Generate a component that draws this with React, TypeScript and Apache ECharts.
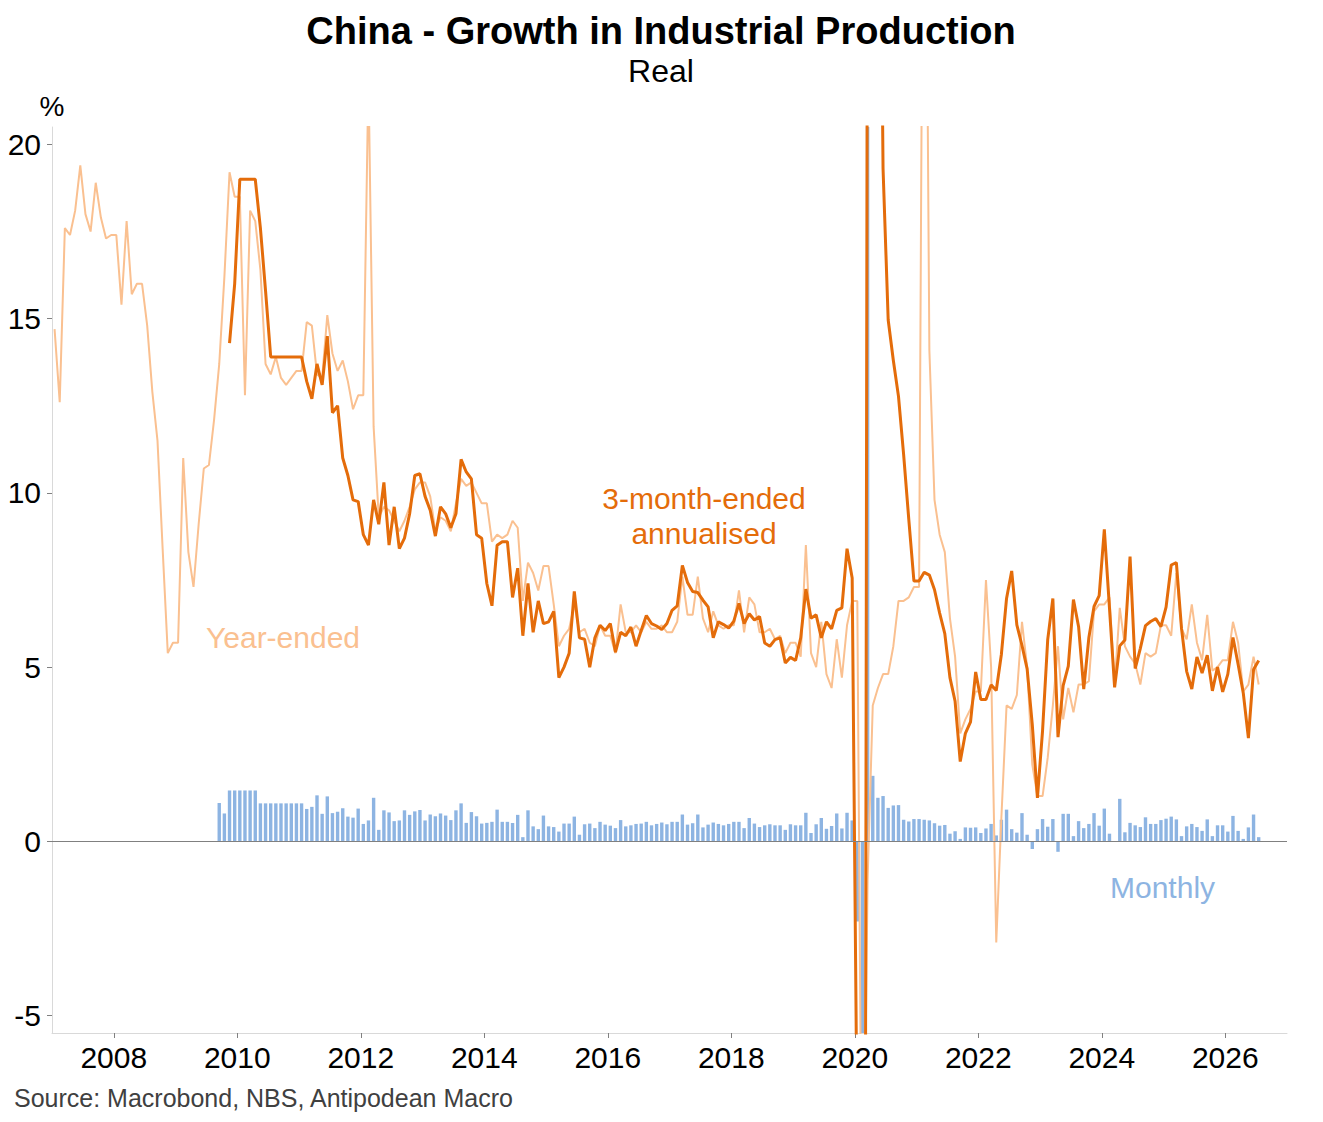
import React, { useEffect, useRef } from 'react';
import * as echarts from 'echarts';

// axis labels
const xAxisLabels = [2008, 2010, 2012, 2014, 2016, 2018, 2020, 2022, 2024, 2026];
const yAxisLabels = [-5, 0, 5, 10, 15, 20];

// year-ended growth, % (monthly from Jan 2007)
const yearEndedStart = { year: 2007, month: 1 };
const yearEnded = [
  14.7, 12.6, 17.6, 17.4, 18.1, 19.4, 18.0, 17.5, 18.9, 17.9, 17.3, 17.4, // 2007
  17.4, 15.4, 17.8, 15.7, 16.0, 16.0, 14.8, 12.9, 11.5, 8.4, 5.4, 5.7, // 2008
  5.7, 11.0, 8.3, 7.3, 9.1, 10.7, 10.8, 12.1, 13.7, 16.2, 19.2, 18.5, // 2009
  18.5, 12.8, 18.1, 17.8, 16.4, 13.7, 13.4, 13.9, 13.3, 13.1, 13.3, 13.5, // 2010
  13.5, 14.9, 14.8, 13.4, 13.3, 15.1, 14.0, 13.5, 13.8, 13.2, 12.4, 12.8, // 2011
  12.8, 22.0, 11.9, 9.3, 9.6, 9.5, 9.2, 8.9, 9.2, 9.6, 10.1, 10.3, // 2012
  10.3, 9.9, 8.9, 9.3, 9.2, 8.9, 9.7, 10.4, 10.2, 10.3, 10.0, 9.7, // 2013
  9.7, 8.6, 8.8, 8.7, 8.8, 9.2, 9.0, 6.9, 8.0, 7.7, 7.2, 7.9, // 2014
  7.9, 6.8, 5.6, 5.9, 6.1, 6.8, 6.0, 6.1, 5.7, 5.6, 6.2, 5.9, // 2015
  5.9, 5.4, 6.8, 6.0, 6.0, 6.2, 6.0, 6.3, 6.1, 6.1, 6.2, 6.0, // 2016
  6.0, 6.3, 7.6, 6.5, 6.5, 7.6, 6.4, 6.0, 6.6, 6.2, 6.1, 6.2, // 2017
  6.2, 7.2, 6.0, 7.0, 6.8, 6.0, 6.0, 6.1, 5.8, 5.9, 5.4, 5.7, // 2018
  5.7, 5.3, 8.5, 5.4, 5.0, 6.3, 4.8, 4.4, 5.8, 4.7, 6.2, 6.9, // 2019
  6.9, -13.5, -1.1, 3.9, 4.4, 4.8, 4.8, 5.6, 6.9, 6.9, 7.0, 7.3, // 2020
  7.3, 35.1, 14.1, 9.8, 8.8, 8.3, 6.4, 5.3, 3.1, 3.5, 3.8, 4.3, // 2021
  4.3, 7.5, 5.0, -2.9, 0.7, 3.9, 3.8, 4.2, 6.3, 5.0, 2.2, 1.3, // 2022
  1.3, 2.4, 3.9, 5.6, 3.5, 4.4, 3.7, 4.5, 4.5, 4.6, 6.6, 6.8, // 2023
  6.8, 7.0, 4.5, 6.7, 5.6, 5.3, 5.1, 4.5, 5.4, 5.3, 5.4, 6.2, // 2024
  6.2, 5.9, 7.7, 6.1, 5.8, 6.8, 5.7, 5.2, 6.5, 4.9, 5.0, 5.2, // 2025
  5.2, 6.3, 5.7, 4.3, 4.5, 5.3, 4.5, // 2026
];

// 3-month-ended annualised, % (from Nov 2009)
const threeMonthStart = { year: 2009, month: 11 };
const threeMonth = [
  14.3, 16.0, // 2009
  19.0, 19.0, 19.0, 19.0, 17.6, 15.8, 13.9, 13.9, 13.9, 13.9, 13.9, 13.9, // 2010
  13.9, 13.2, 12.7, 13.7, 13.1, 14.5, 12.3, 12.5, 11.0, 10.5, 9.8, 9.75, // 2011
  8.8, 8.5, 9.8, 9.1, 10.3, 8.5, 9.6, 8.4, 8.7, 9.4, 10.5, 10.55, // 2012
  9.9, 9.5, 8.76, 9.6, 9.4, 9.0, 9.4, 10.96, 10.6, 10.4, 8.8, 8.7, // 2013
  7.4, 6.76, 8.5, 8.6, 8.6, 7.0, 7.84, 5.9, 7.4, 6.0, 6.9, 6.25, // 2014
  6.3, 6.6, 4.7, 5.0, 5.4, 7.17, 5.84, 5.8, 5.0, 5.84, 6.2, 6.05, // 2015
  6.25, 5.43, 6.0, 5.9, 6.15, 5.6, 6.05, 6.48, 6.25, 6.18, 6.08, 6.25, // 2016
  6.63, 6.76, 7.92, 7.43, 7.17, 7.14, 6.92, 6.73, 5.84, 6.3, 6.22, 6.12, // 2017
  6.32, 6.83, 6.25, 6.53, 6.35, 6.45, 5.69, 5.6, 5.79, 5.84, 5.12, 5.28, // 2018
  5.19, 5.84, 7.24, 6.4, 6.5, 5.84, 6.3, 6.1, 6.63, 6.7, 8.4, 7.56, // 2019
  -9.0, -60.0, 30.0, 45.0, 35.0, 19.3, 14.96, 13.8, 12.77, 11.1, 9.24, 7.47, // 2020
  7.47, 7.72, 7.64, 7.22, 6.55, 5.96, 4.7, 4.02, 2.29, 3.1, 3.43, 4.86, // 2021
  4.07, 4.07, 4.49, 4.33, 5.37, 6.97, 7.76, 6.21, 5.62, 4.95, 3.35, 1.25, // 2022
  3.18, 5.79, 6.97, 2.99, 4.47, 5.03, 6.94, 6.16, 4.37, 5.85, 6.74, 7.05, // 2023
  8.95, 6.7, 4.42, 5.61, 5.78, 8.17, 4.96, 5.54, 6.19, 6.31, 6.39, 6.16, // 2024
  6.72, 7.93, 8.0, 6.11, 4.88, 4.37, 5.29, 4.83, 5.34, 4.32, 5.0, 4.29, // 2025
  4.8, 5.85, 5.08, 4.26, 2.96, 4.93, 5.19, // 2026
];

// monthly growth, % (from Sep 2009)
const monthlyStart = { year: 2009, month: 9 };
const monthly = [
  1.1, 0.8, 1.46, 1.46, // 2009
  1.46, 1.46, 1.46, 1.46, 1.09, 1.09, 1.09, 1.09, 1.09, 1.09, 1.09, 1.09, // 2010
  1.09, 0.93, 0.99, 1.32, 0.79, 1.29, 0.81, 0.85, 0.95, 0.71, 0.68, 0.94, // 2011
  0.5, 0.6, 1.25, 0.33, 0.89, 0.83, 0.58, 0.6, 0.89, 0.76, 0.86, 0.9, // 2012
  0.6, 0.77, 0.72, 0.8, 0.74, 0.61, 0.89, 1.09, 0.53, 0.84, 0.72, 0.51, // 2013
  0.53, 0.56, 0.91, 0.56, 0.56, 0.53, 0.76, 0.12, 0.89, 0.43, 0.35, 0.74, // 2014
  0.43, 0.41, 0.28, 0.51, 0.51, 0.71, 0.19, 0.49, 0.51, 0.38, 0.56, 0.48, // 2015
  0.45, 0.38, 0.61, 0.43, 0.46, 0.5, 0.51, 0.56, 0.46, 0.5, 0.54, 0.49, // 2016
  0.56, 0.56, 0.77, 0.48, 0.52, 0.77, 0.4, 0.48, 0.54, 0.5, 0.46, 0.5, // 2017
  0.56, 0.56, 0.38, 0.67, 0.51, 0.41, 0.46, 0.49, 0.46, 0.46, 0.33, 0.49, // 2018
  0.46, 0.46, 0.82, 0.24, 0.49, 0.67, 0.36, 0.44, 0.8, 0.37, 0.82, 0.6, // 2019
  -2.3, -25.0, 32.0, 1.88, 1.25, 1.3, 0.96, 1.03, 1.04, 0.62, 0.57, 0.64, // 2020
  0.64, 0.62, 0.6, 0.52, 0.45, 0.47, 0.22, 0.29, 0.07, 0.4, 0.39, 0.4, // 2021
  0.24, 0.37, 0.5, 0.17, 0.62, 0.91, 0.35, 0.25, 0.81, 0.19, -0.22, 0.35, // 2022
  0.64, 0.42, 0.64, -0.3, 0.79, 0.79, 0.15, 0.58, 0.38, 0.5, 0.81, 0.45, // 2023
  0.94, 0.22, 0.01, 1.22, 0.26, 0.53, 0.46, 0.41, 0.69, 0.5, 0.5, 0.61, // 2024
  0.65, 0.71, 0.63, 0.15, 0.43, 0.5, 0.41, 0.3, 0.63, 0.15, 0.46, 0.46, // 2025
  0.28, 0.73, 0.3, 0.07, 0.4, 0.77, 0.12, // 2026
];

const FONT = '"Liberation Sans", Arial, sans-serif';

// place each month at its middle on a decimal-year axis
const toPairs = (values: number[], start: { year: number; month: number }) =>
  values.map((v, i) => [start.year + (start.month - 1 + i + 0.5) / 12, v]);

const App: React.FC = () => {
  const chartRef = useRef<HTMLDivElement>(null);

  useEffect(() => {
    if (!chartRef.current) return;
    const chart = echarts.init(chartRef.current, null, { renderer: 'svg' });

    const option: any = {
      animation: false,
      backgroundColor: '#ffffff',
      grid: { left: 52, right: 36, top: 127, bottom: 89, containLabel: false, outerBoundsMode: 'none' },
      xAxis: {
        type: 'value',
        min: 2007,
        max: 2027,
        axisLine: { show: true, onZero: false, lineStyle: { color: '#d9d9d9', width: 1 } },
        axisTick: { show: true, length: 5, customValues: xAxisLabels, lineStyle: { color: '#808080' } },
        axisLabel: {
          customValues: xAxisLabels,
          formatter: (v: number) => String(v),
          fontSize: 30,
          fontFamily: FONT,
          color: '#000000',
          margin: 9,
        },
        splitLine: { show: false },
      },
      yAxis: {
        type: 'value',
        min: -5.5,
        max: 20.5,
        axisLine: { show: true, lineStyle: { color: '#d9d9d9', width: 1 } },
        axisTick: { show: true, length: 5, customValues: yAxisLabels, lineStyle: { color: '#808080' } },
        axisLabel: {
          customValues: yAxisLabels,
          fontSize: 30,
          fontFamily: FONT,
          color: '#000000',
          margin: 11,
        },
        splitLine: { show: false },
      },
      series: [
        {
          name: 'Monthly',
          type: 'bar',
          data: toPairs(monthly, monthlyStart),
          barWidth: 3.4,
          itemStyle: { color: '#8db4e2' },
          markLine: {
            silent: true,
            symbol: 'none',
            label: { show: false },
            lineStyle: { color: '#808080', width: 1, type: 'solid' },
            data: [{ yAxis: 0 }],
          },
        },
        {
          name: 'Year-ended',
          type: 'line',
          data: toPairs(yearEnded, yearEndedStart),
          showSymbol: false,
          lineStyle: { color: '#fac090', width: 2 },
          itemStyle: { color: '#fac090' },
        },
        {
          name: '3-month-ended annualised',
          type: 'line',
          data: toPairs(threeMonth, threeMonthStart),
          showSymbol: false,
          lineStyle: { color: '#e46c0a', width: 3 },
          itemStyle: { color: '#e46c0a' },
        },
      ],
      graphic: [
        {
          type: 'text',
          x: 661,
          y: 31,
          style: {
            text: 'China - Growth in Industrial Production',
            font: `bold 38px ${FONT}`,
            fill: '#000000',
            textAlign: 'center',
            textVerticalAlign: 'middle',
          },
        },
        {
          type: 'text',
          x: 661,
          y: 71,
          style: { text: 'Real', font: `32px ${FONT}`, fill: '#000000', textAlign: 'center', textVerticalAlign: 'middle' },
        },
        {
          type: 'text',
          x: 52,
          y: 106,
          style: { text: '%', font: `28px ${FONT}`, fill: '#000000', textAlign: 'center', textVerticalAlign: 'middle' },
        },
        {
          type: 'text',
          x: 704,
          y: 498,
          style: { text: '3-month-ended', font: `30px ${FONT}`, fill: '#e46c0a', textAlign: 'center', textVerticalAlign: 'middle' },
        },
        {
          type: 'text',
          x: 704,
          y: 533,
          style: { text: 'annualised', font: `30px ${FONT}`, fill: '#e46c0a', textAlign: 'center', textVerticalAlign: 'middle' },
        },
        {
          type: 'text',
          x: 206,
          y: 637,
          style: { text: 'Year-ended', font: `30px ${FONT}`, fill: '#fac090', textAlign: 'left', textVerticalAlign: 'middle' },
        },
        {
          type: 'text',
          x: 1110,
          y: 887,
          style: { text: 'Monthly', font: `30px ${FONT}`, fill: '#8db4e2', textAlign: 'left', textVerticalAlign: 'middle' },
        },
        {
          type: 'text',
          x: 14,
          y: 1098,
          style: {
            text: 'Source: Macrobond, NBS, Antipodean Macro',
            font: `25px ${FONT}`,
            fill: '#404040',
            textAlign: 'left',
            textVerticalAlign: 'middle',
          },
        },
      ],
    };

    chart.setOption(option);

    return () => {
      chart.dispose();
    };
  }, []);

  return (
    <div
      ref={chartRef}
      style={{ position: 'absolute', left: 0, top: 0, width: '1323px', height: '1122px' }}
    />
  );
};

export default App;
